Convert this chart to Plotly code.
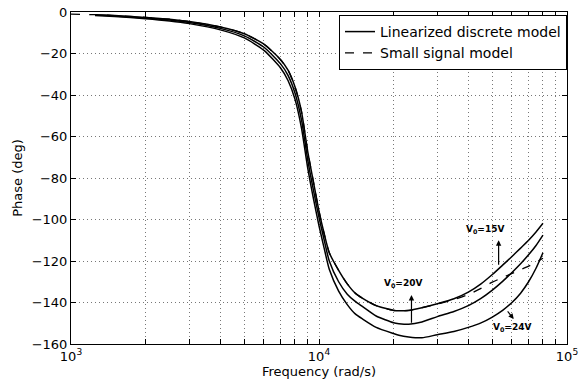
import plotly.graph_objects as go
import numpy as np

# ---- data ----
freq = [1250, 1500, 2000, 2500, 3000, 4000, 5000, 6000, 7000, 7500, 8000, 8500,
        9000, 9500, 10000, 10500, 11000, 12000, 13000, 14000, 15000, 17000,
        20000, 21000, 23000, 26000, 30000, 35000, 40000, 45000, 50000, 55000,
        60000, 65000, 70000, 75000, 80000]

phase_15v = [-1.3, -1.7, -2.6, -3.5, -4.6, -7.2, -10.5, -15.5, -23, -28, -36, -48,
             -67, -82, -96, -107, -116, -124.5, -131, -135.5, -138, -141.5,
             -143.8, -144, -143.8, -142.5, -140.6, -138.2, -135, -131, -126.5, -122,
             -117.8, -113.8, -110, -106, -101.8]

phase_20v = [-1.5, -1.9, -2.9, -3.9, -5.1, -7.9, -11.5, -17, -25, -30.5, -39, -52,
             -71, -86, -99, -110, -120, -130, -136, -139.5, -142, -146.5,
             -149.8, -150.2, -150.5, -149.4, -146.8, -144.3, -141.5, -138, -134, -129.8,
             -125.5, -121.3, -117, -112.5, -107.5]

phase_24v = [-1.7, -2.2, -3.2, -4.3, -5.6, -8.6, -12.5, -18.5, -27, -33, -42, -56,
             -75, -90, -103, -114, -124, -134.5, -141, -145.5, -148, -152,
             -155, -155.8, -156.6, -157, -155.5, -154, -152, -149.8, -147, -143.8,
             -140, -135.5, -130, -123.5, -116]

freq_ss = [1000, 1250, 1500, 2000, 2500, 3000, 4000, 5000, 6000, 7000, 7500, 8000,
           8500, 9000, 9500, 10000, 10500, 11000, 12000, 13000, 14000, 15000,
           17000, 20000, 23000, 26000, 30000, 35000, 40000, 45000, 50000, 55000,
           60000, 65000, 70000, 75000, 80000]
phase_ss = [-1.0, -1.3, -1.7, -2.6, -3.5, -4.6, -7.2, -10.5, -15.5, -23, -28, -36,
            -48, -67, -82, -96, -107, -116, -124.5, -131, -135.5, -138,
            -141.5, -143.8, -143.8, -142.5, -140.8, -138.6, -136.2, -133.2, -130.2, -128,
            -126, -124.2, -122.5, -120.6, -118.7]

xtick_vals = [1e3, 2e3, 3e3, 4e3, 5e3, 6e3, 7e3, 8e3, 9e3,
              1e4, 2e4, 3e4, 4e4, 5e4, 6e4, 7e4, 8e4, 9e4, 1e5]
xtick_text = ["10<sup>3</sup>"] + [""] * 8 + ["10<sup>4</sup>"] + [""] * 8 + ["10<sup>5</sup>"]
ytick_vals = [-160, -140, -120, -100, -80, -60, -40, -20, 0]

labels = ["V<sub>0</sub>=15V", "V<sub>0</sub>=20V", "V<sub>0</sub>=24V"]

FONT = "DejaVu Sans, Arial, sans-serif"

fig = go.Figure()
fig.add_trace(go.Scatter(x=freq, y=phase_15v, mode="lines", name="Linearized discrete model",
                         line=dict(color="black", width=1.5, shape="spline", smoothing=0.6),
                         legendgroup="lin"))
fig.add_trace(go.Scatter(x=freq, y=phase_20v, mode="lines", showlegend=False,
                         line=dict(color="black", width=1.5, shape="spline", smoothing=0.6),
                         legendgroup="lin"))
fig.add_trace(go.Scatter(x=freq, y=phase_24v, mode="lines", showlegend=False,
                         line=dict(color="black", width=1.5, shape="spline", smoothing=0.6),
                         legendgroup="lin"))
fig.add_trace(go.Scatter(x=freq_ss, y=phase_ss, mode="lines", name="Small signal model",
                         line=dict(color="black", width=1.3, dash="dash", shape="spline",
                                   smoothing=0.6)))

# annotations with arrows (data coords; log axis uses log10)
ann_font = dict(family=FONT, size=9, color="black")
arrow = dict(showarrow=True, arrowhead=2, arrowsize=0.9, arrowwidth=1.2, arrowcolor="black")
fig.add_annotation(x=np.log10(53000), y=-110, ax=np.log10(53000), ay=-122.5,
                   xref="x", yref="y", axref="x", ayref="y", text="", **arrow)
fig.add_annotation(x=np.log10(46700), y=-105, text="<b>" + labels[0] + "</b>", showarrow=False,
                   xref="x", yref="y", font=ann_font)
fig.add_annotation(x=np.log10(23600), y=-136.4, ax=np.log10(23600), ay=-150.5,
                   xref="x", yref="y", axref="x", ayref="y", text="", **arrow)
fig.add_annotation(x=np.log10(21800), y=-130.7, text="<b>" + labels[1] + "</b>", showarrow=False,
                   xref="x", yref="y", font=ann_font)
fig.add_annotation(x=np.log10(61000), y=-148.0, ax=np.log10(57000), ay=-143.6,
                   xref="x", yref="y", axref="x", ayref="y", text="", **arrow)
fig.add_annotation(x=np.log10(59800), y=-152.2, text="<b>" + labels[2] + "</b>", showarrow=False,
                   xref="x", yref="y", font=ann_font)

axis_common = dict(showline=True, linecolor="black", linewidth=1, mirror="ticks",
                   ticks="inside", ticklen=5, tickcolor="black",
                   showgrid=True, gridcolor="#777", griddash="1px,3px", gridwidth=1,
                   zeroline=False, tickfont=dict(family=FONT, size=13, color="black"))

fig.update_xaxes(type="log", range=[3, 5], tickmode="array", tickvals=xtick_vals,
                 ticktext=xtick_text,
                 title=dict(text="Frequency (rad/s)", font=dict(family=FONT, size=13, color="black"),
                            standoff=2),
                 **axis_common)
fig.update_yaxes(range=[-160, 0], tickmode="array", tickvals=ytick_vals,
                 title=dict(text="Phase (deg)", font=dict(family=FONT, size=13, color="black"),
                            standoff=6),
                 **axis_common)

fig.update_layout(
    width=587, height=382,
    margin=dict(l=71, r=20, t=12, b=38, autoexpand=False),
    plot_bgcolor="white", paper_bgcolor="white",
    font=dict(family=FONT, size=13, color="black"),
    legend=dict(x=1, y=0.991, xanchor="right", yanchor="top", bgcolor="white",
                bordercolor="black", borderwidth=1,
                font=dict(family=FONT, size=14, color="black"),
                tracegroupgap=0, itemwidth=30),
    showlegend=True,
)

fig.write_html("out.html")
